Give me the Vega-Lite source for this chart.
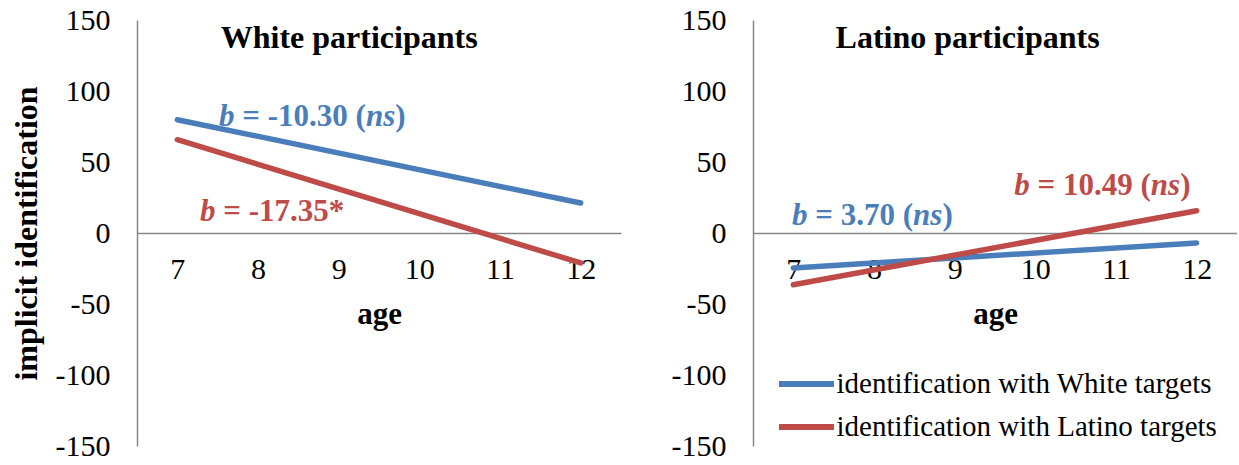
{
  "$schema": "https://vega.github.io/schema/vega-lite/v6.json",
  "padding": {"left": 10, "top": 5, "right": 0, "bottom": 0},
  "background": "white",
  "config": {
    "font": "Liberation Serif",
    "view": {"stroke": null},
    "axis": {
      "grid": false, "ticks": false, "tickSize": 0,
      "domainColor": "#868686", "domainWidth": 1.5,
      "labelFont": "Liberation Serif", "labelFontSize": 30, "labelColor": "#000000",
      "titleFont": "Liberation Serif", "titleFontSize": 31, "titleFontWeight": "bold", "titleColor": "#000000"
    },
    "text": {"font": "Liberation Serif"}
  },
  "datasets": {
    "lines": [
      {"panel": "White", "target": "identification with White targets", "age": 7, "value": 79.8},
      {"panel": "White", "target": "identification with White targets", "age": 12, "value": 21.1},
      {"panel": "White", "target": "identification with Latino targets", "age": 7, "value": 65.7},
      {"panel": "White", "target": "identification with Latino targets", "age": 12, "value": -21.1},
      {"panel": "Latino", "target": "identification with White targets", "age": 7, "value": -24.6},
      {"panel": "Latino", "target": "identification with White targets", "age": 12, "value": -7.0},
      {"panel": "Latino", "target": "identification with Latino targets", "age": 7, "value": -36.4},
      {"panel": "Latino", "target": "identification with Latino targets", "age": 12, "value": 15.7}
    ],
    "one": [{}]
  },
  "spacing": 50,
  "resolve": {"legend": {"color": "independent"}, "scale": {"color": "independent"}},
  "hconcat": [
    {
      "width": 484, "height": 426,
      "layer": [
        {
          "data": {"name": "lines"},
          "transform": [{"filter": "datum.panel === 'White'"}],
          "mark": {"type": "line", "strokeWidth": 5.5, "strokeCap": "round"},
          "encoding": {
            "x": {"field": "age", "type": "quantitative", "scale": {"domain": [6.5, 12.5], "nice": false},
                  "axis": {"orient": "bottom", "offset": -213, "values": [7, 8, 9, 10, 11, 12], "format": "d", "title": "age", "labelFont": "Liberation Serif", "titleFont": "Liberation Serif", "labelPadding": 21, "titlePadding": 15}},
            "y": {"field": "value", "type": "quantitative", "scale": {"domain": [-150, 150], "nice": false},
                  "axis": {"values": [-150, -100, -50, 0, 50, 100, 150], "title": "implicit identification", "titleFontSize": 32, "labelFont": "Liberation Serif", "titleFont": "Liberation Serif", "labelPadding": 27, "titlePadding": 12, "labelExpr": "'' + datum.value"}},
            "color": {"field": "target", "type": "nominal",
                      "scale": {"domain": ["identification with White targets", "identification with Latino targets"], "range": ["#4A7EBB", "#BE4B48"]},
                      "legend": null}
          }
        },
        {"data": {"name": "one"}, "mark": {"type": "text", "text": "White participants", "font": "Liberation Serif", "fontWeight": "bold", "fontSize": 32, "color": "#000000", "align": "center", "baseline": "middle"},
         "encoding": {"x": {"datum": 9.13}, "y": {"datum": 137.3}}},
        {"data": {"name": "one"}, "mark": {"type": "text", "text": "b", "font": "Liberation Serif", "fontWeight": "bold", "fontStyle": "italic", "fontSize": 31, "color": "#4A7EBB", "align": "left", "baseline": "middle"},
         "encoding": {"x": {"datum": 7.517}, "y": {"datum": 82}}},
        {"data": {"name": "one"}, "mark": {"type": "text", "text": "= -10.30 (", "font": "Liberation Serif", "fontWeight": "bold", "fontSize": 31, "color": "#4A7EBB", "align": "left", "baseline": "middle"},
         "encoding": {"x": {"datum": 7.806}, "y": {"datum": 82}}},
        {"data": {"name": "one"}, "mark": {"type": "text", "text": "ns", "font": "Liberation Serif", "fontWeight": "bold", "fontStyle": "italic", "fontSize": 31, "color": "#4A7EBB", "align": "left", "baseline": "middle"},
         "encoding": {"x": {"datum": 9.339}, "y": {"datum": 82}}},
        {"data": {"name": "one"}, "mark": {"type": "text", "text": ")", "font": "Liberation Serif", "fontWeight": "bold", "fontSize": 31, "color": "#4A7EBB", "align": "left", "baseline": "middle"},
         "encoding": {"x": {"datum": 9.702}, "y": {"datum": 82}}},
        {"data": {"name": "one"}, "mark": {"type": "text", "text": "b", "font": "Liberation Serif", "fontWeight": "bold", "fontStyle": "italic", "fontSize": 31, "color": "#BE4B48", "align": "left", "baseline": "middle"},
         "encoding": {"x": {"datum": 7.282}, "y": {"datum": 14.5}}},
        {"data": {"name": "one"}, "mark": {"type": "text", "text": "= -17.35*", "font": "Liberation Serif", "fontWeight": "bold", "fontSize": 31, "color": "#BE4B48", "align": "left", "baseline": "middle"},
         "encoding": {"x": {"datum": 7.570}, "y": {"datum": 14.5}}}
      ]
    },
    {
      "width": 484, "height": 426,
      "layer": [
        {
          "data": {"name": "lines"},
          "transform": [{"filter": "datum.panel === 'Latino'"}],
          "mark": {"type": "line", "strokeWidth": 5.5, "strokeCap": "round"},
          "encoding": {
            "x": {"field": "age", "type": "quantitative", "scale": {"domain": [6.5, 12.5], "nice": false},
                  "axis": {"orient": "bottom", "offset": -213, "values": [7, 8, 9, 10, 11, 12], "format": "d", "title": "age", "labelFont": "Liberation Serif", "titleFont": "Liberation Serif", "labelPadding": 21, "titlePadding": 15}},
            "y": {"field": "value", "type": "quantitative", "scale": {"domain": [-150, 150], "nice": false},
                  "axis": {"values": [-150, -100, -50, 0, 50, 100, 150], "title": null, "labelFont": "Liberation Serif", "labelPadding": 27, "labelExpr": "'' + datum.value"}},
            "color": {"field": "target", "type": "nominal",
                      "scale": {"domain": ["identification with White targets", "identification with Latino targets"], "range": ["#4A7EBB", "#BE4B48"]},
                      "legend": {"title": null, "orient": "none", "legendX": 36.5, "legendY": 347,
                                 "symbolType": "M-2,0H2", "symbolSize": 756, "symbolStrokeWidth": 6,
                                 "labelFont": "Liberation Serif", "labelFontSize": 29, "labelColor": "#000000",
                                 "labelOffset": 13, "rowPadding": 11, "labelLimit": 0}}
          }
        },
        {"data": {"name": "one"}, "mark": {"type": "text", "text": "Latino participants", "font": "Liberation Serif", "fontWeight": "bold", "fontSize": 32, "color": "#000000", "align": "center", "baseline": "middle"},
         "encoding": {"x": {"datum": 9.16}, "y": {"datum": 137.3}}},
        {"data": {"name": "one"}, "mark": {"type": "text", "text": "b", "font": "Liberation Serif", "fontWeight": "bold", "fontStyle": "italic", "fontSize": 31, "color": "#4A7EBB", "align": "left", "baseline": "middle"},
         "encoding": {"x": {"datum": 6.984}, "y": {"datum": 11.7}}},
        {"data": {"name": "one"}, "mark": {"type": "text", "text": "= 3.70 (", "font": "Liberation Serif", "fontWeight": "bold", "fontSize": 31, "color": "#4A7EBB", "align": "left", "baseline": "middle"},
         "encoding": {"x": {"datum": 7.272}, "y": {"datum": 11.7}}},
        {"data": {"name": "one"}, "mark": {"type": "text", "text": "ns", "font": "Liberation Serif", "fontWeight": "bold", "fontStyle": "italic", "fontSize": 31, "color": "#4A7EBB", "align": "left", "baseline": "middle"},
         "encoding": {"x": {"datum": 8.485}, "y": {"datum": 11.7}}},
        {"data": {"name": "one"}, "mark": {"type": "text", "text": ")", "font": "Liberation Serif", "fontWeight": "bold", "fontSize": 31, "color": "#4A7EBB", "align": "left", "baseline": "middle"},
         "encoding": {"x": {"datum": 8.849}, "y": {"datum": 11.7}}},
        {"data": {"name": "one"}, "mark": {"type": "text", "text": "b", "font": "Liberation Serif", "fontWeight": "bold", "fontStyle": "italic", "fontSize": 31, "color": "#BE4B48", "align": "left", "baseline": "middle"},
         "encoding": {"x": {"datum": 9.738}, "y": {"datum": 32.8}}},
        {"data": {"name": "one"}, "mark": {"type": "text", "text": "= 10.49 (", "font": "Liberation Serif", "fontWeight": "bold", "fontSize": 31, "color": "#BE4B48", "align": "left", "baseline": "middle"},
         "encoding": {"x": {"datum": 10.027}, "y": {"datum": 32.8}}},
        {"data": {"name": "one"}, "mark": {"type": "text", "text": "ns", "font": "Liberation Serif", "fontWeight": "bold", "fontStyle": "italic", "fontSize": 31, "color": "#BE4B48", "align": "left", "baseline": "middle"},
         "encoding": {"x": {"datum": 11.432}, "y": {"datum": 32.8}}},
        {"data": {"name": "one"}, "mark": {"type": "text", "text": ")", "font": "Liberation Serif", "fontWeight": "bold", "fontSize": 31, "color": "#BE4B48", "align": "left", "baseline": "middle"},
         "encoding": {"x": {"datum": 11.795}, "y": {"datum": 32.8}}}
      ]
    }
  ]
}
